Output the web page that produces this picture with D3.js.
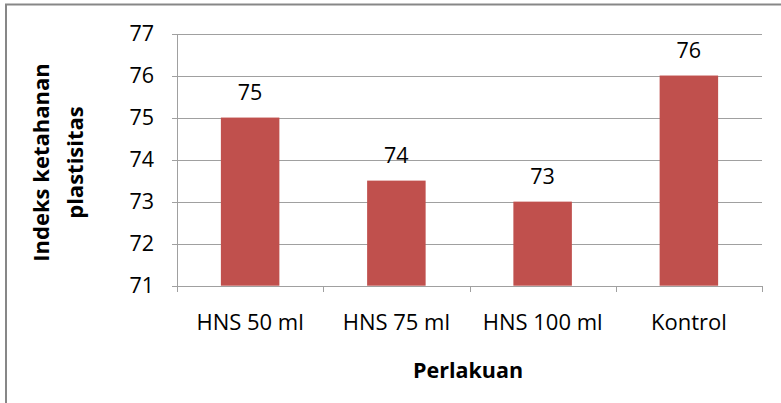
<!DOCTYPE html>
<html>
<head>
<meta charset="utf-8">
<script src="https://cdn.jsdelivr.net/npm/d3@7"></script>
<style>
html,body{margin:0;padding:0;background:#fff;}
svg{display:block;}
text{font-family:"Open Sans",sans-serif;fill:#000;}
</style>
</head>
<body>
<svg id="chart" width="781" height="403"></svg>
<script>
const categories = ["HNS 50 ml", "HNS 75 ml", "HNS 100 ml", "Kontrol"];
const values = [75, 73.5, 73, 76];
const yTicks = [71, 72, 73, 74, 75, 76, 77];
const yTitle = ["Indeks ketahanan", "plastisitas"];
const xTitle = "Perlakuan";

(function () {
const svg = d3.select("#chart");
const W = 781, H = 403;
const pLeft = 177, pRight = 762, pTop = 33.5, pBottom = 285.7;

// outer border (only top and left visible)
svg.append("path")
  .attr("d", `M6,${H} L6,4.5 L${W},4.5`)
  .attr("fill", "none").attr("stroke", "#878787").attr("stroke-width", 2);

const x = d3.scaleBand().domain(categories).range([pLeft, pRight])
  .paddingInner(0.6).paddingOuter(0.3);
const y = d3.scaleLinear().domain([71, 77]).range([pBottom, pTop]);

// gridlines
svg.append("g").selectAll("line").data(yTicks).join("line")
  .attr("x1", pLeft - 5).attr("x2", pRight)
  .attr("y1", d => Math.round(y(d)) + 0.5).attr("y2", d => Math.round(y(d)) + 0.5)
  .attr("stroke", "#a0a0a0").attr("stroke-width", 1);

// y axis line
svg.append("line").attr("x1", pLeft + 0.5).attr("x2", pLeft + 0.5)
  .attr("y1", Math.round(y(77))).attr("y2", Math.round(y(71)) + 6)
  .attr("stroke", "#a0a0a0");

// bars
svg.append("g").selectAll("rect").data(values).join("rect")
  .attr("x", (d, i) => x(categories[i]))
  .attr("width", x.bandwidth())
  .attr("y", d => y(d))
  .attr("height", d => y(71) - y(d))
  .attr("fill", "#c0504d");

// x axis baseline
svg.append("line").attr("x1", pLeft).attr("x2", pRight)
  .attr("y1", Math.round(y(71)) + 0.5).attr("y2", Math.round(y(71)) + 0.5)
  .attr("stroke", "#a0a0a0");

// category boundary ticks
const bounds = d3.range(categories.length + 1).map(i => pLeft + i * (pRight - pLeft) / categories.length);
svg.append("g").selectAll("line").data(bounds).join("line")
  .attr("x1", d => Math.round(d) + 0.5).attr("x2", d => Math.round(d) + 0.5)
  .attr("y1", Math.round(y(71))).attr("y2", Math.round(y(71)) + 6)
  .attr("stroke", "#a0a0a0");

// y tick labels
svg.append("g").selectAll("text").data(yTicks).join("text")
  .attr("x", 154).attr("y", d => y(d))
  .attr("dy", "0.36em")
  .attr("text-anchor", "end")
  .style("font-size", "21.5px")
  .text(d => d);

// x tick labels
svg.append("g").selectAll("text").data(categories).join("text")
  .attr("x", d => x(d) + x.bandwidth() / 2)
  .attr("y", 329.5)
  .attr("text-anchor", "middle")
  .style("font-size", "22px")
  .text(d => d);

// data labels
const fmt = d3.format(".0f");
svg.append("g").selectAll("text").data(values).join("text")
  .attr("x", (d, i) => x(categories[i]) + x.bandwidth() / 2)
  .attr("y", d => y(d) - 18)
  .attr("text-anchor", "middle")
  .style("font-size", "21.5px")
  .text(d => fmt(d));

// x title
svg.append("text").attr("x", 468).attr("y", 378)
  .attr("text-anchor", "middle")
  .style("font-size", "21.5px").style("font-weight", "bold")
  .text(xTitle);

// y title
const yt = svg.append("text")
  .attr("transform", "translate(58,162.5) rotate(-90)")
  .attr("text-anchor", "middle")
  .style("font-size", "22px").style("font-weight", "bold");
yTitle.forEach((t, i) => {
  yt.append("tspan").attr("x", 0).attr("y", i === 0 ? -9 : 24.5).text(t);
});
})();
</script>
</body>
</html>
